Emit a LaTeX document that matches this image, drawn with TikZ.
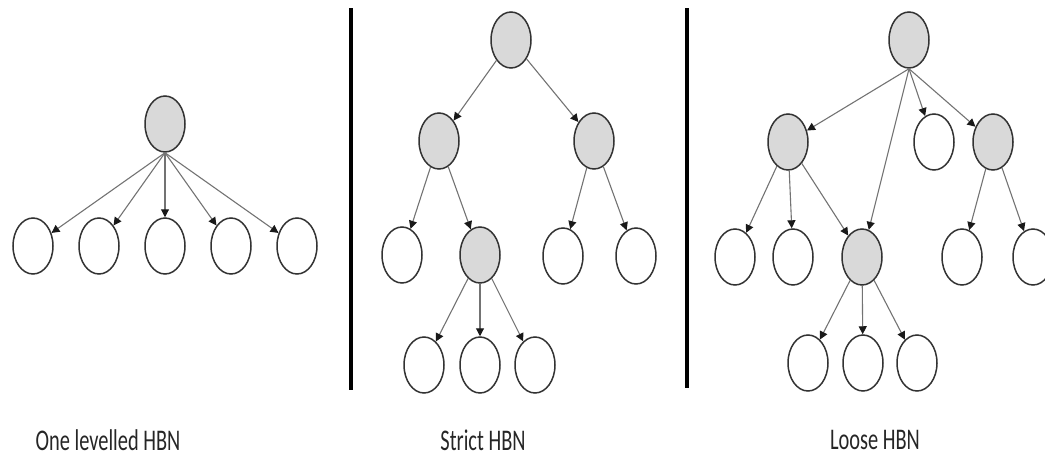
\documentclass[tikz,border=0pt]{standalone}
\usepackage{fontspec}
\setmainfont{Carlito}
\usetikzlibrary{shapes.geometric,arrows.meta}
\begin{document}
\begin{tikzpicture}[x=1pt,y=-1pt,
  vnode/.style={ellipse,draw=black!80,line width=1.5pt,minimum width=40pt,minimum height=56pt,inner sep=0pt},
  leaf/.style={vnode,fill=white},
  inner/.style={vnode,fill=black!15},
  edge/.style={draw=black!55,line width=1.1pt,-{Triangle[length=8pt,width=8pt,color=black!90]}},
  sep/.style={line width=4.5pt,black},
  caption/.style={font=\fontsize{30}{34}\selectfont,inner sep=0pt,text=black!85}]
\useasboundingbox (0,0) rectangle (1045,458);

% separators between the three panels
\coordinate (s1a) at (351,8);  \coordinate (s1b) at (351,390);
\coordinate (s2a) at (687,8);  \coordinate (s2b) at (687,388);
\draw[sep] (s1a) -- (s1b);
\draw[sep] (s2a) -- (s2b);

% one-levelled network
\node[inner] (a0) at (165,124) {};
\node[leaf] (a1) at (33,246) {};
\node[leaf] (a2) at (99,246) {};
\node[leaf] (a3) at (165,246) {};
\node[leaf] (a4) at (231,246) {};
\node[leaf] (a5) at (297,246) {};
\foreach \c in {a1,a2,a3,a4,a5} \draw[edge] (a0.south) -- (\c);

% strict network
\node[inner] (b0) at (511,40) {};
\node[inner] (b1) at (439,141) {};
\node[inner] (b2) at (594,141) {};
\node[leaf] (b11) at (402,255) {};
\node[inner] (b12) at (480,255) {};
\node[leaf] (b21) at (563,256) {};
\node[leaf] (b22) at (636,256) {};
\node[leaf] (b121) at (424,365) {};
\node[leaf] (b122) at (480,365) {};
\node[leaf] (b123) at (535,365) {};
\draw[edge] (b0) -- (b1);
\draw[edge] (b0) -- (b2);
\draw[edge] (b1) -- (b11);
\draw[edge] (b1) -- (b12);
\draw[edge] (b2) -- (b21);
\draw[edge] (b2) -- (b22);
\draw[edge] (b12) -- (b121);
\draw[edge] (b12) -- (b122);
\draw[edge] (b12) -- (b123);

% loose network
\node[inner] (c0) at (909,40) {};
\node[inner] (c1) at (788,142) {};
\node[leaf] (c2) at (934,142) {};
\node[inner] (c3) at (993,142) {};
\node[leaf] (c11) at (735,257) {};
\node[leaf] (c12) at (793,257) {};
\node[inner] (c13) at (862,257) {};
\node[leaf] (c31) at (962,257) {};
\node[leaf] (c32) at (1033,257) {};
\node[leaf] (c131) at (808,363) {};
\node[leaf] (c132) at (863,363) {};
\node[leaf] (c133) at (917,363) {};
\foreach \c in {c1,c13,c2,c3} \draw[edge] (c0.south) -- (\c);
\draw[edge] (c1) -- (c11);
\draw[edge] (c1) -- (c12);
\draw[edge] (c1) -- (c13);
\draw[edge] (c3) -- (c31);
\draw[edge] (c3) -- (c32);
\draw[edge] (c13) -- (c131);
\draw[edge] (c13) -- (c132);
\draw[edge] (c13) -- (c133);

% captions
\node[caption] (t1) at (108,440) {\scalebox{0.68}[1]{One levelled HBN}};
\node[caption] (t2) at (483,440) {\scalebox{0.68}[1]{Strict HBN}};
\node[caption] (t3) at (875,440) {\scalebox{0.68}[1]{Loose HBN}};
\end{tikzpicture}
\end{document}
